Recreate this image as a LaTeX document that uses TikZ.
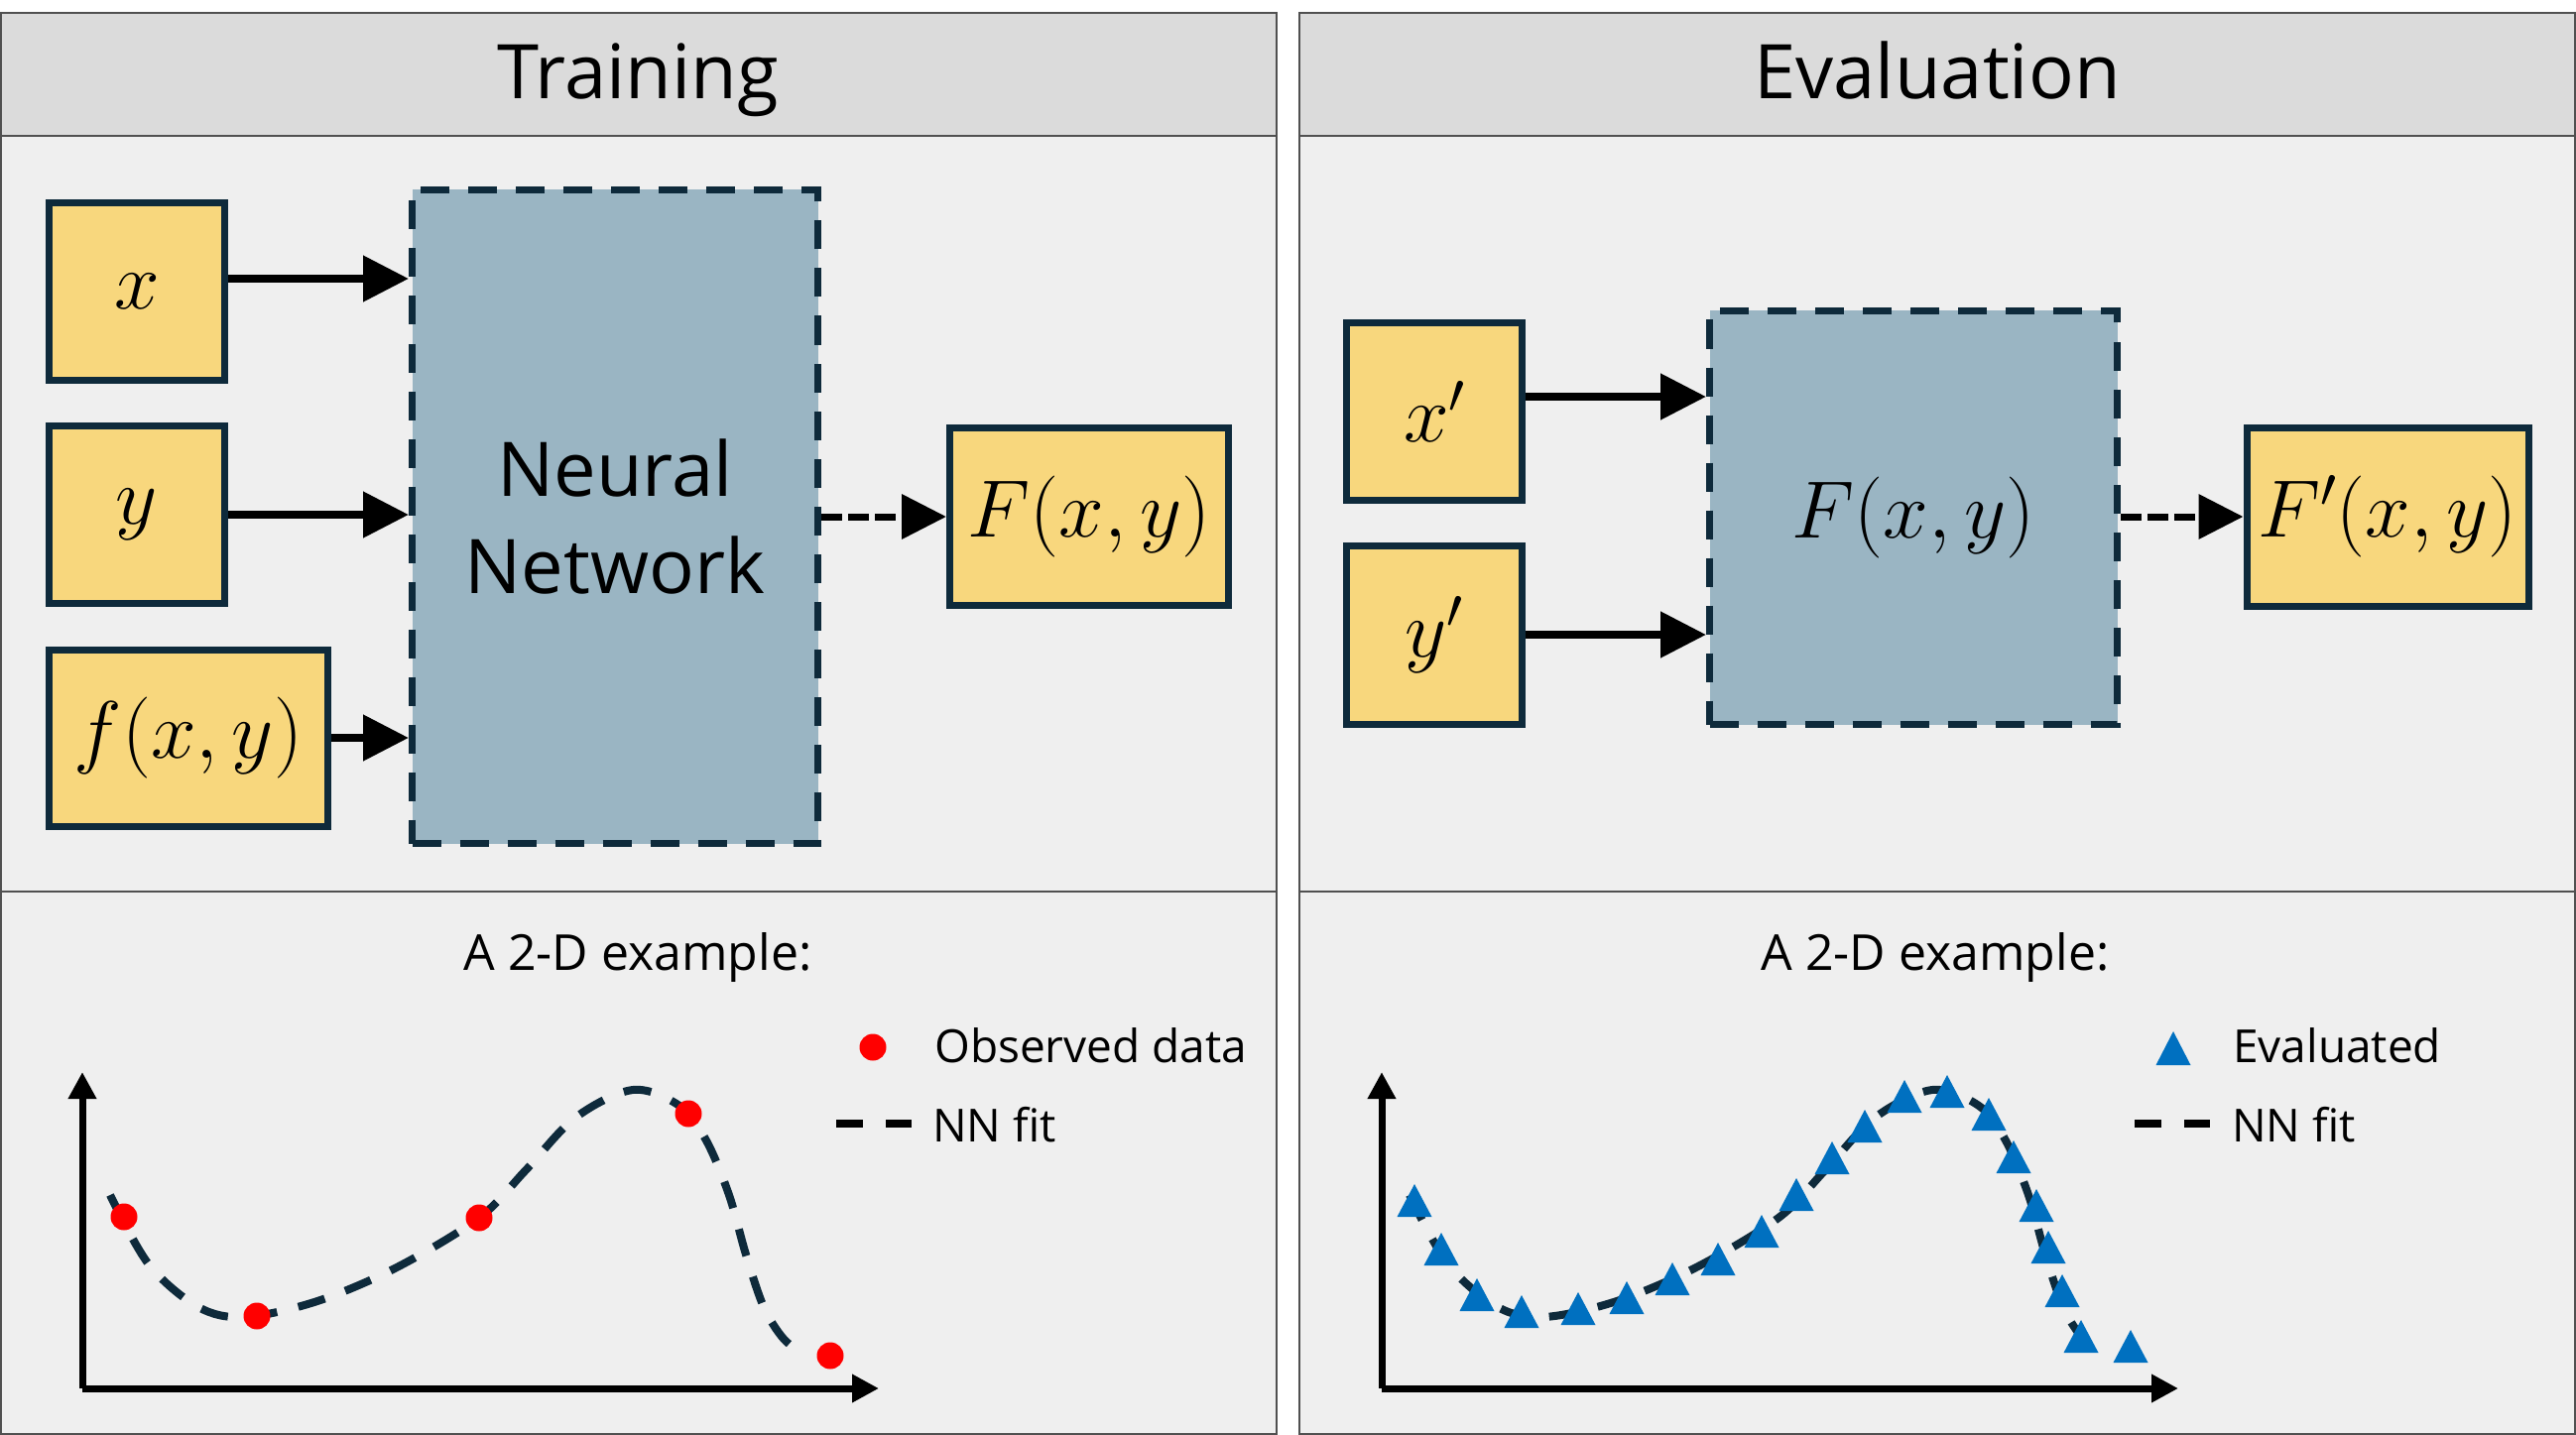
\RequirePackage{fix-cm}
\documentclass[tikz,border=0pt]{standalone}
\usepackage{fontspec}
\newfontfamily\uifont{Open Sans}
\usetikzlibrary{arrows.meta}
\definecolor{hdr}{HTML}{DBDBDB}
\definecolor{bodyc}{HTML}{EFEFEF}
\definecolor{gold}{HTML}{F8D77D}
\definecolor{steel}{HTML}{9AB5C3}
\definecolor{navy}{HTML}{0E2A3B}
\definecolor{panelline}{HTML}{505050}
\definecolor{dotred}{HTML}{FF0000}
\definecolor{triblue}{HTML}{0070C0}
\tikzset{
  titletext/.style={font=\uifont\fontsize{76}{90}\selectfont, inner sep=0pt},
  smalltext/.style={font=\uifont\fontsize{46}{55}\selectfont, inner sep=0pt},
  extext/.style={font=\uifont\fontsize{50}{60}\selectfont, inner sep=0pt},
  ybox/.style={draw=navy, line width=7pt, fill=gold, inner sep=0pt,
    font=\fontsize{82}{96}\selectfont},
  nnbox/.style={draw=navy, line width=7pt, fill=steel, inner sep=0pt,
    dash pattern=on 29pt off 19pt},
  arr/.style={black, line width=8pt, -{Triangle[length=46pt,width=45pt]}},
  darr/.style={black, line width=7pt, dash pattern=on 21pt off 6pt, -{Triangle[length=45pt,width=44pt]}},
  axisline/.style={black, line width=7pt, -{Triangle[length=27pt,width=27pt]}},
  fitline/.style={navy, line width=8pt, dash pattern=on 28pt off 22pt},
  legdash/.style={black, line width=8pt, dash pattern=on 27pt off 23pt},
}
\begin{document}
\begin{tikzpicture}[x=1pt,y=-1pt]
\useasboundingbox (0,0) rectangle (2597,1447);
\fill[white] (0,0) rectangle (2597,1447);
% panels
\foreach \xa/\xb in {1/1287, 1310/2596}{
  \fill[bodyc] (\xa,137) rectangle (\xb,1446);
  \fill[hdr] (\xa,13) rectangle (\xb,137);
  \draw[panelline, line width=1.5pt] (\xa,13) rectangle (\xb,1446);
  \draw[panelline, line width=1.5pt] (\xa,137) -- (\xb,137);
  \draw[panelline, line width=1.5pt] (\xa,899) -- (\xb,899);
}
% titles
\node[titletext, anchor=base] (ttrain) at (643,100) {Training};
\node[titletext, anchor=base] (teval) at (1953,100) {Evaluation};

% ---------- Training ----------
\node[ybox, minimum width=177pt, minimum height=179pt] (bx) at (138,294) {$x$};
\node[ybox, minimum width=177pt, minimum height=179pt] (by) at (138,519) {$y$};
\node[ybox, minimum width=281pt, minimum height=178pt] (bf) at (190,744) {$f(x,y)$};
\node[nnbox, minimum width=409pt, minimum height=659pt, align=center,
  font=\uifont\fontsize{76}{98}\selectfont] (nn) at (620,521) {Neural\\Network};
\node[ybox, minimum width=281pt, minimum height=179pt] (bF) at (1098,521) {$F(x,y)$};
\draw[arr] ([yshift=13pt]bx.east) -- ([yshift=13pt]bx.east -| nn.west);
\draw[arr] (by.east) -- (by.east -| nn.west);
\draw[arr] (bf.east) -- (bf.east -| nn.west);
\draw[darr] (nn.east |- bF.west) -- (bF.west);

% ---------- Evaluation ----------
\node[ybox, minimum width=177pt, minimum height=178pt] (bxp) at (1446,415) {$x'$};
\node[ybox, minimum width=177pt, minimum height=180pt] (byp) at (1446,640) {$y'$};
\node[nnbox, minimum width=411pt, minimum height=417pt,
  font=\fontsize{82}{96}\selectfont] (ev) at (1929,522) {$F(x,y)$};
\node[ybox, minimum width=284pt, minimum height=180pt] (bFp) at (2407,521) {$F'(x,y)$};
\draw[arr] ([yshift=15pt]bxp.east) -- ([yshift=15pt]bxp.east -| ev.west);
\draw[arr] (byp.east) -- (byp.east -| ev.west);
\draw[darr] (ev.east |- bFp.west) -- (bFp.west);

% ---------- example captions ----------
\node[extext, anchor=base] (ex1) at (643,978) {A 2-D example:};
\node[extext, anchor=base] (ex2) at (1951,978) {A 2-D example:};

% ---------- plots ----------
\foreach \dx in {0,1310}{
\begin{scope}[xshift=\dx pt]
  \draw[fitline] plot[smooth, tension=0.55] coordinates {
    (111,1205) (150,1275) (200,1318) (247,1328) (320,1312) (400,1278)
    (483,1228) (530,1180) (580,1127) (638,1099) (685,1115) (712,1150)
    (735,1205) (752,1265) (770,1318) (790,1350) (812,1367)};
  \draw[axisline] (83,1400) -- (886,1400);
  \draw[axisline] (83,1400) -- (83,1081);
\end{scope}
}
% observed data
\foreach \cx/\cy in {125/1227, 259/1327, 483/1228, 694/1123, 837/1367}
  \fill[dotred] (\cx,\cy) circle (13.5);
% evaluated
\foreach \cx/\cy in {1426/1211, 1453/1260, 1489/1306, 1534/1323, 1591/1320,
  1640/1309, 1686/1290, 1732/1270, 1776/1242, 1811/1205, 1847/1168,
  1880/1136, 1920/1106, 1963/1101, 2005/1124, 2030/1167, 2053/1216,
  2065/1258, 2079/1302, 2098/1348, 2148/1358}
  \fill[triblue] (\cx,\cy-17) -- (\cx+17.5,\cy+16) -- (\cx-17.5,\cy+16) -- cycle;

% legends
\fill[dotred] (880,1056) circle (13.5);
\node[smalltext, anchor=base west] (lobs) at (942,1071) {Observed data};
\draw[legdash] (843,1133) -- (919,1133);
\node[smalltext, anchor=base west] (lnn1) at (940,1151) {NN fit};
\fill[triblue] (2191,1040) -- (2208.5,1074) -- (2173.5,1074) -- cycle;
\node[smalltext, anchor=base west] (leval) at (2251,1071) {Evaluated};
\draw[legdash] (2152,1133) -- (2228,1133);
\node[smalltext, anchor=base west] (lnn2) at (2250,1151) {NN fit};
\end{tikzpicture}
\end{document}
